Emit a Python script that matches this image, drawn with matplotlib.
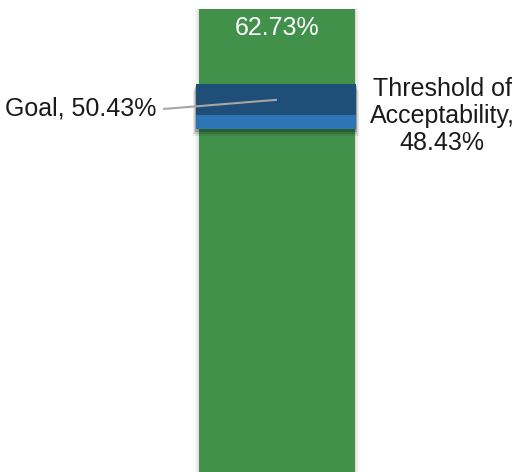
import matplotlib.pyplot as plt

plt.rcParams['font.family'] = ['Liberation Sans', 'DejaVu Sans']

# values
actual = 62.73
goal = 50.43
threshold = 48.43
actual_label = "62.73%"
goal_label = "Goal, 50.43%"
threshold_label = "Threshold of\nAcceptability,\n48.43%"

green = "#41914a"
dark_blue = "#1f4e79"
light_blue = "#2e75b6"

fig = plt.figure(figsize=(5.16, 4.72), dpi=100)
ax = fig.add_axes([0, 0, 1, 1])
ax.set_xlim(-1.065, 0.919)
ax.set_ylim(0, 63.95)
ax.axis("off")

# soft shadow behind the bar
for grow, a in [(0.03, 0.06), (0.02, 0.09), (0.01, 0.14)]:
    ax.bar(0, actual, width=0.6 + grow, color="gray", alpha=a, zorder=1, lw=0)
ax.bar(0, actual, width=0.6, color=green, zorder=2, lw=0)

# goal band (dark) on top of threshold band (light)
band_x = -0.004
band_w = 0.615
band_bottom = threshold - 2.0
band_top = goal + 2.2
# drop shadow under the bands
for grow, drop, a in [(0.02, 0.9, 0.08), (0.012, 0.6, 0.12), (0.006, 0.35, 0.18)]:
    ax.bar(band_x, band_top - band_bottom, bottom=band_bottom - drop,
           width=band_w + grow, color="black", alpha=a, zorder=3, lw=0)
ax.bar(band_x, threshold - band_bottom, bottom=band_bottom, width=band_w,
       color=light_blue, zorder=4, lw=0)
ax.bar(band_x, band_top - threshold, bottom=threshold, width=band_w,
       color=dark_blue, zorder=4, lw=0)

# labels
ax.annotate(actual_label, xy=(0, actual), xytext=(0, -13.5), textcoords="offset points",
            ha="center", va="center", color="white", fontsize=18, zorder=6)

ax.plot([-0.438, 0], [49.18, goal], color="#a6a6a6", lw=1.5, zorder=5,
        solid_capstyle="butt")
ax.text(-0.463, 49.3, goal_label, ha="right", va="center", fontsize=18, color="#1a1a1a")

ax.text(0.635, threshold - 0.2, threshold_label, ha="center", va="center", fontsize=18,
        multialignment="center", linespacing=1.17, color="#1a1a1a")

fig.savefig("out.png", dpi=100)
